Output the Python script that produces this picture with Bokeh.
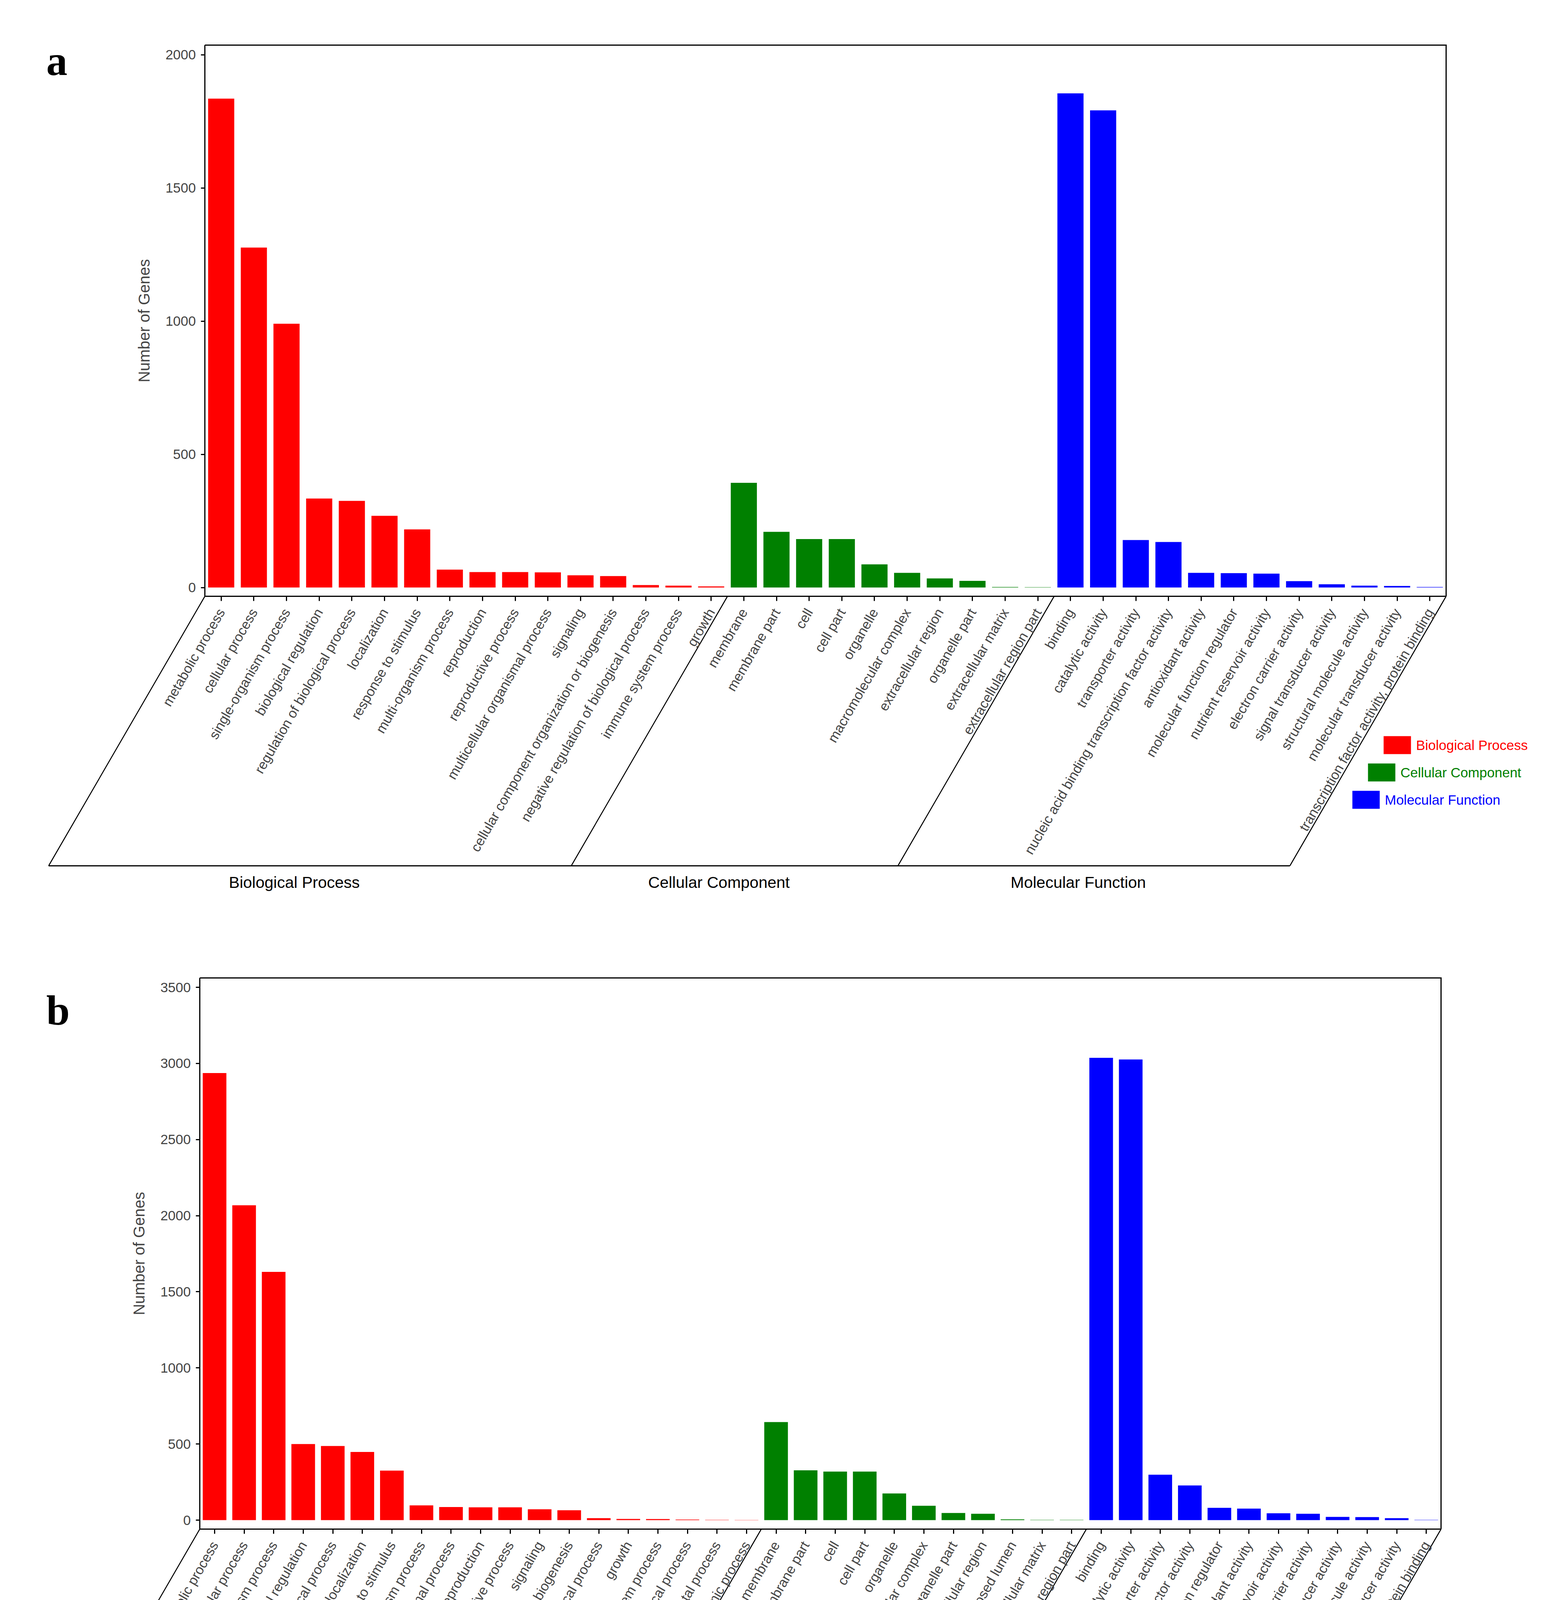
import math
from bokeh.plotting import figure
from bokeh.models import LinearAxis, FixedTicker, Range1d, ColumnDataSource
from bokeh.layouts import column
from bokeh.embed import file_html
from bokeh.resources import INLINE
from bokeh.core.properties import value

# ---------------- data (panel a) ----------------
bp_a_labels = ["metabolic process", "cellular process", "single-organism process",
               "biological regulation", "regulation of biological process", "localization",
               "response to stimulus", "multi-organism process", "reproduction",
               "reproductive process", "multicellular organismal process", "signaling",
               "cellular component organization or biogenesis",
               "negative regulation of biological process", "immune system process", "growth"]
bp_a_values = [1835, 1276, 990, 334, 325, 269, 218, 67, 58, 58, 57, 46, 43, 9, 7, 4]

cc_a_labels = ["membrane", "membrane part", "cell", "cell part", "organelle",
               "macromolecular complex", "extracellular region", "organelle part",
               "extracellular matrix", "extracellular region part"]
cc_a_values = [393, 209, 182, 182, 87, 55, 34, 25, 2, 1]

mf_a_labels = ["binding", "catalytic activity", "transporter activity",
               "nucleic acid binding transcription factor activity", "antioxidant activity",
               "molecular function regulator", "nutrient reservoir activity",
               "electron carrier activity", "signal transducer activity",
               "structural molecule activity", "molecular transducer activity",
               "transcription factor activity, protein binding"]
mf_a_values = [1855, 1791, 178, 171, 55, 54, 52, 24, 12, 7, 6, 2]

yticks_a = [0, 500, 1000, 1500, 2000]

# ---------------- data (panel b) ----------------
bp_b_labels = ["metabolic process", "cellular process", "single-organism process",
               "biological regulation", "regulation of biological process", "localization",
               "response to stimulus", "multi-organism process",
               "multicellular organismal process", "reproduction", "reproductive process",
               "signaling", "cellular component organization or biogenesis",
               "negative regulation of biological process", "growth", "immune system process",
               "positive regulation of biological process", "developmental process",
               "rhythmic process"]
bp_b_values = [2937, 2068, 1631, 500, 487, 448, 325, 97, 86, 84, 84, 71, 65, 13, 8, 7, 4, 2, 1]

cc_b_labels = ["membrane", "membrane part", "cell", "cell part", "organelle",
               "macromolecular complex", "organelle part", "extracellular region",
               "membrane-enclosed lumen", "extracellular matrix", "extracellular region part"]
cc_b_values = [644, 327, 319, 319, 175, 94, 47, 42, 5, 2, 2]

mf_b_labels = ["binding", "catalytic activity", "transporter activity",
               "nucleic acid binding transcription factor activity",
               "molecular function regulator", "antioxidant activity",
               "nutrient reservoir activity", "electron carrier activity",
               "signal transducer activity", "structural molecule activity",
               "molecular transducer activity", "transcription factor activity, protein binding"]
mf_b_values = [3037, 3026, 298, 228, 81, 76, 45, 42, 21, 20, 13, 2]

yticks_b = [0, 500, 1000, 1500, 2000, 2500, 3000, 3500]

group_names = ["Biological Process", "Cellular Component", "Molecular Function"]
group_colors = ["#FF0000", "#008000", "#0000FF"]

# ---------------- layout constants (reference pixels) ----------------
W = 3996
SANS = "Liberation Sans"

GEOM_A = dict(fig_top=8, height=2392, box_left=532, box_right=3710, box_top=123,
              box_bot=1534, zero_y=1511.5, ppu=1364 / 2000, leg_top=358, leg_step=70,
              letter_base=163)
GEOM_B = dict(fig_top=2400, height=2316, box_left=519, box_right=3697, box_top=2511,
              box_bot=3922, zero_y=3899, ppu=1364 / 3500, leg_top=343, leg_step=67,
              letter_base=2594)


def make_panel(letter, groups, yticks, g):
    names, vals, cols, bnds = [], [], [], [0]
    for (labels, values), c in zip(groups, group_colors):
        names += labels
        vals += values
        cols += [c] * len(values)
        bnds.append(len(names))
    n = len(names)
    pitch = (g["box_right"] - g["box_left"]) / n
    ppu = g["ppu"]

    def dx(rx):
        return (rx - g["box_left"]) / pitch - 0.5

    def dy(ry):
        return (g["zero_y"] - ry) / ppu

    top_ref = g["fig_top"]
    p = figure(width=W, height=g["height"],
               x_range=Range1d(dx(8), dx(8 + W)),
               y_range=Range1d(dy(top_ref + g["height"]), dy(top_ref)),
               output_backend="svg", toolbar_location=None,
               x_axis_type=None, y_axis_type=None, min_border=0,
               outline_line_color=None)

    src = ColumnDataSource(dict(x=list(range(n)), top=vals, color=cols))
    p.vbar(x="x", top="top", bottom=0, width=0.8, source=src,
           fill_color="color", line_color=None)

    btop = dy(g["box_top"])
    bbot = dy(g["box_bot"])
    # top and right border of the plotting box
    p.line(x=[-0.5, n - 0.5, n - 0.5], y=[btop, btop, bbot], line_color="black",
           line_width=3, line_join="miter")

    # y axis
    ya = LinearAxis(fixed_location=-0.5, bounds=(bbot, btop),
                    ticker=FixedTicker(ticks=yticks), axis_label="Number of Genes")
    ya.axis_line_width = 3
    ya.major_tick_line_width = 3
    ya.major_tick_out = 10
    ya.major_tick_in = 0
    ya.minor_tick_out = 0
    ya.minor_tick_in = 0
    ya.major_label_standoff = 13
    ya.major_label_text_font = SANS
    ya.major_label_text_font_size = "35px"
    ya.axis_label_text_font = SANS
    ya.axis_label_text_font_size = "40px"
    ya.axis_label_text_font_style = "normal"
    ya.axis_label_standoff = 30
    p.add_layout(ya, "left")

    # x axis with rotated category labels
    xa = LinearAxis(fixed_location=bbot, bounds=(-0.5, n - 0.5),
                    ticker=FixedTicker(ticks=list(range(n))),
                    major_label_overrides={i: nm for i, nm in enumerate(names)},
                    major_label_orientation=math.pi / 3)
    xa.axis_line_width = 3
    xa.major_tick_line_width = 3
    xa.major_tick_out = 12
    xa.major_tick_in = 0
    xa.minor_tick_out = 0
    xa.minor_tick_in = 0
    xa.major_label_standoff = 22
    xa.major_label_text_font = SANS
    xa.major_label_text_font_size = "35px"
    p.add_layout(xa, "below")

    # slanted frame under the axis
    shift = 400 / pitch
    drop = 690 / ppu
    tops = [bnds[0] - 0.5, bnds[1] - 0.5, bnds[2] - 0.5, bnds[3] - 0.5]
    p.multi_line(xs=[[t, t - shift] for t in tops],
                 ys=[[bbot, bbot - drop] for _ in tops],
                 line_color="black", line_width=2.5)
    p.line(x=[tops[0] - shift, tops[-1] - shift], y=[bbot - drop, bbot - drop],
           line_color="black", line_width=3)

    # group names
    gx = [(bnds[k] + bnds[k + 1]) / 2 - 0.5 - (400 + 40) / pitch for k in range(3)]
    gy = [bbot - 732 / ppu] * 3
    p.text(x=gx, y=gy, text=group_names, text_font=value(SANS), text_font_size="41px",
           text_align="center", text_baseline="middle", text_color="black")

    # staggered legend
    lx, ly, tx = [], [], []
    for k in range(3):
        left_px = g["box_right"] - 160 - 40 * k
        top_px = g["box_bot"] + g["leg_top"] + g["leg_step"] * k
        lx.append(dx(left_px + 35))
        ly.append(dy(top_px + 23))
        tx.append(dx(left_px + 70 + 13))
    p.rect(x=lx, y=ly, width=70, height=46, width_units="screen", height_units="screen",
           fill_color=group_colors, line_color=None)
    p.text(x=tx, y=ly, text=group_names, text_color=group_colors, text_font=value(SANS),
           text_font_size="35px", text_align="left", text_baseline="middle")

    # panel letter
    p.text(x=[dx(126)], y=[dy(g["letter_base"])], text=[letter],
           text_font=value("Liberation Serif"), text_font_style="bold",
           text_font_size="108px", text_align="left", text_baseline="alphabetic",
           text_color="black")
    return p


pa = make_panel("a", [(bp_a_labels, bp_a_values), (cc_a_labels, cc_a_values),
                      (mf_a_labels, mf_a_values)], yticks_a, GEOM_A)
pb = make_panel("b", [(bp_b_labels, bp_b_values), (cc_b_labels, cc_b_values),
                      (mf_b_labels, mf_b_values)], yticks_b, GEOM_B)

layout = column(pa, pb, spacing=0)
open("out.html", "w").write(file_html(layout, INLINE))
